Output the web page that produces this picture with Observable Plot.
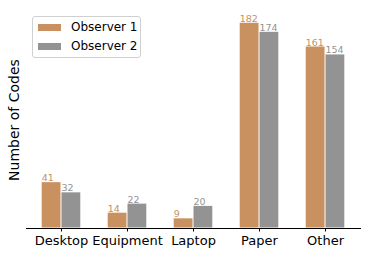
<!DOCTYPE html>
<html>
<head>
<meta charset="utf-8">
<script src="https://cdn.jsdelivr.net/npm/d3@7"></script>
<script src="https://cdn.jsdelivr.net/npm/@observablehq/plot@0.6"></script>
<style>
  html, body { margin: 0; padding: 0; background: #fff; }
  #wrap { position: relative; width: 370px; height: 255px; font-family: "DejaVu Sans", sans-serif; }
  #legend { position: absolute; left: 32px; top: 16px; width: 107px; height: 40px; border: 1px solid #d0d0d0; border-radius: 3px; background: rgba(255,255,255,0.8); box-sizing: content-box; }
  .row { position: absolute; left: 5px; display: flex; align-items: center; font-size: 12px; color: #000; white-space: nowrap; }
  .sw { width: 23px; height: 7px; margin-right: 10px; }
  #ylabel { position: absolute; left: 14px; top: 120px; transform: translate(-50%, -50%) rotate(-90deg); font-size: 14px; color: #000; white-space: nowrap; line-height: 1; }
</style>
</head>
<body>
<div id="wrap"><div id="chart"></div><div id="legend"></div><div id="ylabel"></div></div>
<script>
const categories = ["Desktop", "Equipment", "Laptop", "Paper", "Other"];
const observers = ["Observer 1", "Observer 2"];
const observer1 = [41, 14, 9, 182, 161];
const observer2 = [32, 22, 20, 174, 154];
const colors = ["#c8915f", "#939393"];
const yLabel = "Number of Codes";

const data = categories.flatMap((c, i) => [
  {category: c, observer: observers[0], value: observer1[i]},
  {category: c, observer: observers[1], value: observer2[i]}
]);

const chart = Plot.plot({
  width: 370,
  height: 255,
  marginLeft: 26,
  marginRight: 10,
  marginTop: 12,
  marginBottom: 27,
  style: {fontFamily: "DejaVu Sans", background: "white", overflow: "visible"},
  fx: {domain: categories, paddingInner: 0.4, paddingOuter: 0.23, round: false, label: null},
  x: {domain: observers, padding: 0, round: false, axis: null},
  y: {domain: [0, 191.1], axis: null},
  color: {domain: observers, range: colors},
  marks: [
    Plot.barY(data, {fx: "category", x: "observer", y: "value", fill: "observer", inset: 0.5}),
    Plot.text(data, {fx: "category", x: "observer", y: "value", text: d => String(d.value), fill: "observer",
      textAnchor: "start", lineAnchor: "bottom", dx: -9.9, dy: -1, fontSize: 9.5}),
    Plot.axisFx({anchor: "bottom", tickSize: 3.5, tickPadding: 3.5, fontSize: 13, label: null, color: "#000"}),
    Plot.frame({anchor: "bottom", facet: "super", stroke: "#000", insetLeft: -15.2, insetRight: -15.2})
  ]
});
document.getElementById("chart").appendChild(chart);
document.getElementById("ylabel").textContent = yLabel;

const legend = document.getElementById("legend");
observers.forEach((o, i) => {
  const row = document.createElement("div");
  row.className = "row";
  row.style.top = (i === 0 ? 3 : 22) + "px";
  const sw = document.createElement("div");
  sw.className = "sw";
  sw.style.background = colors[i];
  const t = document.createElement("span");
  t.textContent = o;
  row.appendChild(sw);
  row.appendChild(t);
  legend.appendChild(row);
});
</script>
</body>
</html>
